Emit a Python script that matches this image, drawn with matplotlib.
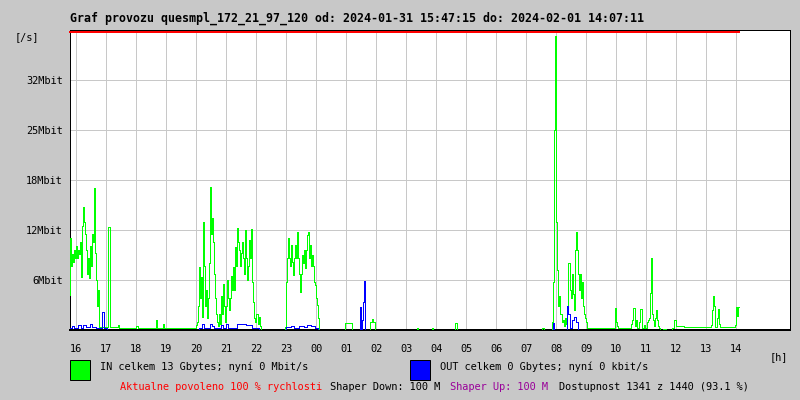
import matplotlib
matplotlib.use("Agg")
import matplotlib.pyplot as plt
from matplotlib.patches import Rectangle
import numpy as np

# ---- data (minutes relative to 16:00, values in Mbit/s) ----
title = "Graf provozu quesmpl_172_21_97_120 od: 2024-01-31 15:47:15 do: 2024-02-01 14:07:11"
start_min = -12.75          # 15:47:15
span_min = 1440
hour_labels = ["16", "17", "18", "19", "20", "21", "22", "23", "00", "01", "02", "03",
               "04", "05", "06", "07", "08", "09", "10", "11", "12", "13", "14"]
y_tick_vals = [6.25, 12.5, 18.75, 25.0, 31.25]
y_tick_labels = ["6Mbit", "12Mbit", "18Mbit", "25Mbit", "32Mbit"]
y_max = 37.5

in_min = [-14, -12, -10, -8, -6, -4, -2, 0, 2, 4, 6, 8, 10, 12, 14, 16, 18, 20, 22, 24,
          26, 28, 30, 32, 34, 36, 38, 40, 42, 44, 46, 64, 68, 84, 86, 120, 124, 160, 162,
          174, 176, 200, 240,
          242, 244, 246, 248, 250, 252, 254, 256, 258, 260, 262, 264, 266, 268, 270, 272,
          274, 276, 278, 280, 282, 284, 286, 288, 290, 292, 294, 296, 298, 300, 302, 304,
          306, 308, 310, 312, 314, 316, 318, 320, 322, 324, 326, 328, 330, 332, 334, 336,
          338, 340, 342, 344, 346, 348, 350, 352, 354, 356, 358, 360, 362, 364, 366, 368,
          370,
          418, 420, 422, 424, 426, 428, 430, 432, 434, 436, 438, 440, 442, 444, 446, 448,
          450, 452, 454, 456, 458, 460, 462, 464, 466, 468, 470, 472, 474, 476, 478, 480,
          482, 484, 486,
          538, 552, 588, 592, 594, 598, 682, 684, 712, 714, 758, 762, 932, 936,
          952, 954, 956, 958, 960, 962, 964, 966, 968, 970, 972, 974, 976, 978, 980, 982,
          984, 986, 988, 990, 992, 994, 996, 998, 1000, 1002, 1004, 1006, 1008, 1010, 1012,
          1014, 1016, 1018, 1020, 1022, 1026,
          1078, 1080, 1082, 1084, 1110, 1112, 1114, 1116, 1118, 1120, 1122, 1126, 1128,
          1130, 1132, 1136, 1138, 1142, 1144, 1146, 1148, 1150, 1152, 1154, 1156, 1158,
          1160, 1162, 1164, 1166, 1168, 1174, 1180, 1192, 1196, 1198, 1200, 1216, 1270,
          1272, 1274, 1276, 1278, 1282, 1284, 1286, 1288, 1318, 1320, 1322, 1324, 1326]
in_mbit = [4.4, 11.5, 8, 9.5, 8.5, 10, 9, 10.5, 9, 10, 9.5, 11, 6.6, 13, 15.4, 13.5, 12, 10, 7, 9,
           6.5, 10.5, 8, 12, 11, 17.7, 9.6, 6.2, 3, 5, 0.4, 12.9, 0.4, 0.6, 0.3, 0.5, 0.3, 1.2, 0.3,
           0.8, 0.3, 0.2, 0.6,
           1.0, 3, 7.9, 4, 6.6, 1.6, 13.5, 8, 3, 5, 1.5, 4, 8.4, 17.9, 12, 14,
           11, 7, 4, 2, 1, 0.5, 2, 0.8, 4.2, 2, 5.8, 3, 1, 3, 6.25, 4,
           2.5, 4, 6.8, 5, 7.9, 5, 10.4, 8, 12.7, 11, 10, 8, 9.6, 11, 9, 7,
           12.5, 9, 6.2, 8, 11.2, 9, 12.6, 6, 3.5, 1.5, 1, 2, 2, 0.8, 1.6, 0.5,
           0,
           0.4, 6, 9, 11.5, 9, 8, 10.6, 8.5, 6.9, 9, 10.6, 9, 12.2, 9, 7, 4.8,
           7, 9.4, 8.4, 10, 7.7, 10, 11.9, 12.2, 9, 10.6, 8, 9.4, 8, 6, 5.6, 4,
           3.1, 1.5, 0,
           0.9, 0, 1.0, 1.4, 1.0, 0, 0.2, 0, 0.2, 0, 0.9, 0, 0.2, 0,
           1.0, 6, 25, 36.7, 13.5, 7.5, 3, 4.2, 2, 2, 1, 1.3, 0.5, 1.5, 0.7, 3,
           8.4, 8.4, 5, 4, 7, 4.5, 2.5, 10, 12.2, 10, 7, 5, 7, 4, 6,
           3, 2, 1.5, 1, 0.3, 0.25,
           2.7, 1, 0.5, 0.3, 0.8, 1.2, 2.7, 2.7, 0.5, 1.3, 0.3, 1.0, 2.6,
           2.6, 0.3, 0.6, 0.3, 1.0, 1.3, 1.5, 4.6, 9.0, 2.0, 1.3, 0.5, 1.5,
           2.5, 1.2, 0.5, 0.2, 0, 0.1, 0, 0.3, 1.3, 1.25, 0.5, 0.4, 0.6,
           2.5, 4.2, 3.0, 0.4, 1.5, 2.6, 0.8, 0.4, 0.6, 2.9, 1.7, 2.9, 2.9]

out_min = [-14, -8, -4, 4, 10, 14, 20, 28, 32, 40, 50, 52, 56, 62,
           246, 252, 256, 268, 272, 276, 290, 294, 300, 304, 322, 340, 352, 366,
           420, 430, 436, 446, 456, 462, 470, 478, 484,
           568, 570, 572, 574, 576, 578,
           954, 956, 982, 984, 988, 992, 996, 1000, 1004, 1326]
out_mbit = [0.3, 0.5, 0.3, 0.6, 0.3, 0.6, 0.4, 0.7, 0.4, 0.3, 0.3, 2.3, 0.3, 0,
            0.3, 0.7, 0.3, 0.8, 0.5, 0.3, 0.6, 0.3, 0.8, 0.3, 0.7, 0.6, 0.3, 0,
            0.4, 0.5, 0.3, 0.5, 0.4, 0.6, 0.5, 0.3, 0,
            2.9, 0, 1.2, 3.5, 6.1, 0,
            0.9, 0, 3.0, 2.0, 0.3, 1.2, 1.6, 1.0, 0, 0]

legend_in = "IN celkem 13 Gbytes; nyní 0 Mbit/s"
legend_out = "OUT celkem 0 Gbytes; nyní 0 kbit/s"

# ---- figure ----
BG = "#c8c8c8"
W, H = 800, 400
PX = 0.72  # one pixel in points at 100 dpi
fig = plt.figure(figsize=(8, 4), dpi=100, facecolor=BG)
ax = fig.add_axes([70 / W, 1 - 330 / H, 720 / W, 300 / H])
ax.set_facecolor("white")

mono = "DejaVu Sans Mono"

x_in = np.array(in_min) / 60.0
x_out = np.array(out_min) / 60.0
ax.plot(x_in, in_mbit, drawstyle="steps-post", color="#00ff00", lw=PX,
        antialiased=False, zorder=3)
ax.plot(x_out, out_mbit, drawstyle="steps-post", color="#0000ff", lw=PX,
        antialiased=False, zorder=4)

# red max line along the top over the data period (just under the black frame)
ax.plot([start_min / 60.0, in_min[-1] / 60.0], [y_max * (1 - 1.5 / 300)] * 2,
        color="#ff0000", lw=2 * PX, antialiased=False, zorder=5, clip_on=False)

ax.set_xlim(start_min / 60.0, (start_min + span_min) / 60.0)
ax.set_ylim(0, y_max)
ax.set_xticks(np.arange(len(hour_labels)))
ax.set_xticklabels(hour_labels, fontsize=7.4, family=mono)
ax.set_yticks(y_tick_vals)
ax.set_yticklabels(y_tick_labels, fontsize=7.4, family=mono)
ax.tick_params(axis="x", length=0, pad=10)
ax.tick_params(axis="y", length=4, width=PX, color="#c8c8c8", pad=1, direction="out")
ax.grid(True, color="#c8c8c8", lw=PX, antialiased=False, zorder=1)
for s in ["left", "top", "right"]:
    ax.spines[s].set_linewidth(PX)
    ax.spines[s].set_color("black")
ax.spines["bottom"].set_linewidth(2 * PX)
ax.spines["bottom"].set_color("black")


def ftext(x, y, s, **kw):
    fig.text(x / W, 1 - y / H, s, family=mono, va="center", **kw)


ftext(70, 18, title, fontsize=8.4, fontweight="bold", ha="left")
ftext(15, 37, "[/s]", fontsize=7.4, ha="left")
ftext(770, 357, "[h]", fontsize=7.4, ha="left")

fig.patches.append(Rectangle((70 / W, 1 - 380 / H), 20 / W, 20 / H, transform=fig.transFigure,
                             facecolor="#00ff00", edgecolor="black", lw=PX))
fig.patches.append(Rectangle((410 / W, 1 - 380 / H), 20 / W, 20 / H, transform=fig.transFigure,
                             facecolor="#0000ff", edgecolor="black", lw=PX))
ftext(100, 367, legend_in, fontsize=7.4, ha="left")
ftext(440, 367, legend_out, fontsize=7.4, ha="left")

ftext(120, 387, "Aktualne povoleno 100 % rychlosti", fontsize=7.4, ha="left", color="#ff0000")
ftext(330, 387, "Shaper Down: 100 M", fontsize=7.4, ha="left", color="black")
ftext(450, 387, "Shaper Up: 100 M", fontsize=7.4, ha="left", color="#990099")
ftext(559, 387, "Dostupnost 1341 z 1440 (93.1 %)", fontsize=7.4, ha="left", color="black")

fig.savefig("out.png", dpi=100, facecolor=BG)
